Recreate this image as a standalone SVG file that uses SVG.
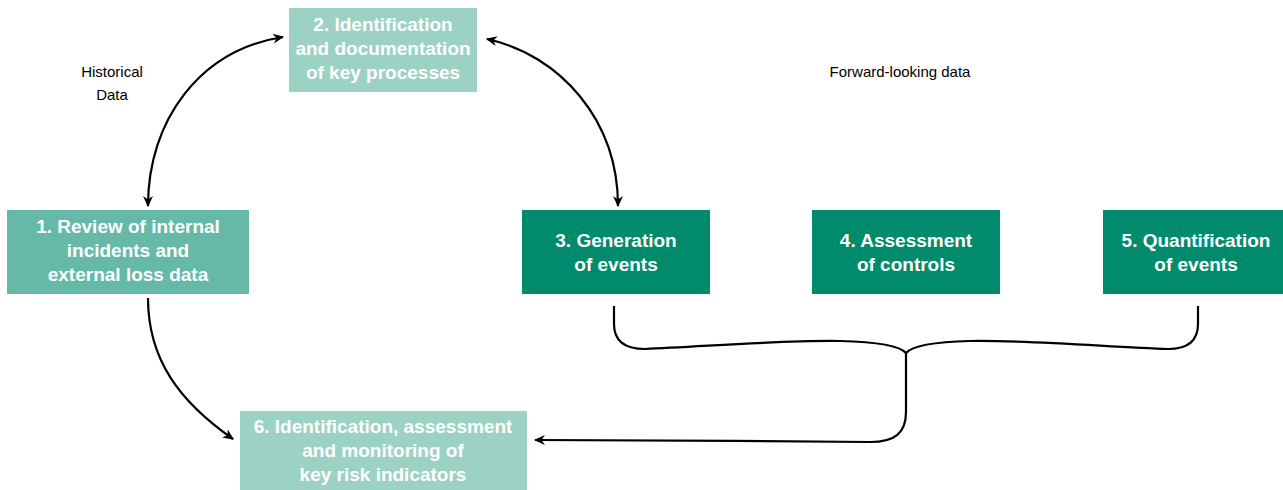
<svg xmlns="http://www.w3.org/2000/svg" width="1283" height="490" viewBox="0 0 1283 490">
<defs>
<marker id="ah" viewBox="0 0 10 10" refX="9" refY="5" markerWidth="11" markerHeight="11" markerUnits="userSpaceOnUse" orient="auto-start-reverse">
<path d="M0,0.5 L10,5 L0,9.5 L3,5 z" fill="#000"/>
</marker>
<style>
.lbl{font-family:"Liberation Sans",Arial,sans-serif;font-weight:bold;font-size:19px;fill:#fff;text-anchor:middle}
.note{font-family:"Liberation Sans",Arial,sans-serif;font-size:15px;fill:#000;text-anchor:middle}
.c{fill:none;stroke:#000;stroke-width:2.2}
.light{fill:#9cd2c3}
.mid{fill:#66b9a6}
.dark{fill:#008b6c}
</style>
</defs>
<rect width="1283" height="490" fill="#fff"/>
<g id="connectors">
<path class="c" d="M148,206 C148,120 200,50 283,37" marker-start="url(#ah)" marker-end="url(#ah)"/>
<path class="c" d="M487,39 C560,55 618,120 618,206" marker-start="url(#ah)" marker-end="url(#ah)"/>
<path class="c" d="M148,298 C148,360 180,402 233,439" marker-end="url(#ah)"/>
<path class="c" d="M614,306 L614,324 C614,341 625,349 645,349 C700,347 780,340 840,341 C880,342 900,346 906,353"/>
<path class="c" d="M1198,306 L1198,324 C1198,341 1188,349 1168,349 C1110,347 1030,340 970,341 C930,342 912,346 906,353"/>
<path class="c" d="M906,352 L906,412 C906,433 895,442 870,442 C760,441 640,440 535,440" marker-end="url(#ah)"/>
</g>
<g id="historical">
<text class="note" x="112" y="77">Historical</text>
<text class="note" x="112" y="100">Data</text>
</g>
<g id="forward">
<text class="note" x="900" y="77">Forward-looking data</text>
</g>
<g id="node2">
<rect class="light" x="289" y="8" width="188" height="84"/>
<text class="lbl" x="383" y="31">2. Identification</text>
<text class="lbl" x="383" y="55">and documentation</text>
<text class="lbl" x="383" y="79">of key processes</text>
</g>
<g id="node1">
<rect class="mid" x="7" y="210" width="242" height="84"/>
<text class="lbl" x="128" y="233">1. Review of internal</text>
<text class="lbl" x="128" y="257">incidents and</text>
<text class="lbl" x="128" y="281">external loss data</text>
</g>
<g id="node3">
<rect class="dark" x="522" y="210" width="188" height="84"/>
<text class="lbl" x="616" y="247">3. Generation</text>
<text class="lbl" x="616" y="271">of events</text>
</g>
<g id="node4">
<rect class="dark" x="812" y="210" width="188" height="84"/>
<text class="lbl" x="906" y="247">4. Assessment</text>
<text class="lbl" x="906" y="271">of controls</text>
</g>
<g id="node5">
<rect class="dark" x="1103" y="210" width="188" height="84"/>
<text class="lbl" x="1196" y="247">5. Quantification</text>
<text class="lbl" x="1196" y="271">of events</text>
</g>
<g id="node6">
<rect class="light" x="240" y="411" width="287" height="84"/>
<text class="lbl" x="383" y="433">6. Identification, assessment</text>
<text class="lbl" x="383" y="457">and monitoring of</text>
<text class="lbl" x="383" y="481">key risk indicators</text>
</g>
</svg>
